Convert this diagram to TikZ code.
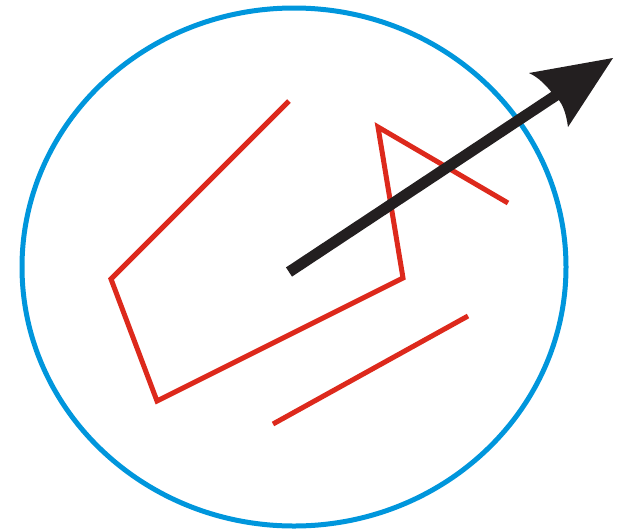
\documentclass[tikz,border=0pt]{standalone}
\definecolor{cblue}{RGB}{0,150,220}
\definecolor{cred}{RGB}{221,41,28}
\definecolor{cblack}{RGB}{35,31,32}
\tikzset{redline/.style={draw=cred,line width=5pt,line join=miter},
  blueline/.style={draw=cblue,line width=5pt}}
\begin{document}
\begin{tikzpicture}[x=1pt,y=-1pt]
\useasboundingbox (0,0) rectangle (621,531);
\draw[blueline] (294,267) ellipse [x radius=272, y radius=259];
\coordinate (p1) at (289,101);
\coordinate (p2) at (111,279);
\coordinate (p3) at (157,401);
\coordinate (p4) at (403,278);
\coordinate (p5) at (378,127);
\coordinate (p6) at (508,203);
\draw[redline] (p1) -- (p2) -- (p3) -- (p4) -- (p5) -- (p6);
\coordinate (q1) at (273,424);
\coordinate (q2) at (468,316);
\draw[redline] (q1) -- (q2);
\coordinate (a0) at (289,272);
\coordinate (a1) at (558,94);
\coordinate (tip) at (613,58);
\coordinate (bl) at (529,73);
\coordinate (br) at (568,127);
\draw[cblack,line width=11pt] (a0) -- (a1);
\fill[cblack] (tip) -- (br) .. controls (566,112) and (562,101) .. (553,94) .. controls (546,85) and (538,77) .. (bl) -- cycle;
\end{tikzpicture}
\end{document}
